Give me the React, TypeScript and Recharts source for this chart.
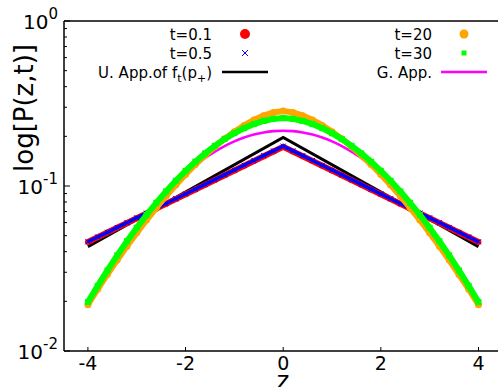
import { ComposedChart, XAxis, YAxis, Line, Scatter } from "recharts";

// z grid of the simulated points
const Z = [
  -4, -3.8, -3.6, -3.4, -3.2, -3, -2.8, -2.6, -2.4, -2.2, -2, -1.8, -1.6, -1.4, -1.2, -1, -0.8, -0.6, -0.4, -0.2,
  0, 0.2, 0.4, 0.6, 0.8, 1, 1.2, 1.4, 1.6, 1.8, 2, 2.2, 2.4, 2.6, 2.8, 3, 3.2, 3.4, 3.6, 3.8, 4,
];

const T01 = [
  0.0458, 0.0489, 0.0523, 0.0559, 0.0597, 0.0638, 0.0682, 0.0729, 0.0779, 0.0833, 0.089, 0.0951, 0.1016, 0.1086,
  0.1161, 0.1241, 0.1326, 0.1417, 0.1515, 0.1618, 0.173, 0.1618, 0.1515, 0.1417, 0.1326, 0.1241, 0.1161, 0.1086,
  0.1016, 0.0951, 0.089, 0.0833, 0.0779, 0.0729, 0.0682, 0.0638, 0.0597, 0.0559, 0.0523, 0.0489, 0.0458,
];
const T05 = [
  0.0459, 0.0491, 0.0524, 0.0561, 0.0599, 0.0641, 0.0685, 0.0732, 0.0783, 0.0837, 0.0895, 0.0957, 0.1023, 0.1094,
  0.1169, 0.125, 0.1336, 0.1428, 0.1527, 0.1632, 0.1745, 0.1632, 0.1527, 0.1428, 0.1336, 0.125, 0.1169, 0.1094,
  0.1023, 0.0957, 0.0895, 0.0837, 0.0783, 0.0732, 0.0685, 0.0641, 0.0599, 0.0561, 0.0524, 0.0491, 0.0459,
];
const T20 = [
  0.0191, 0.0237, 0.0291, 0.0356, 0.0432, 0.052, 0.0622, 0.0738, 0.0869, 0.1015, 0.1176, 0.135, 0.1536, 0.1732,
  0.1932, 0.2133, 0.2328, 0.251, 0.2669, 0.279, 0.2851, 0.279, 0.2669, 0.251, 0.2328, 0.2133, 0.1932, 0.1732,
  0.1536, 0.135, 0.1176, 0.1015, 0.0869, 0.0738, 0.0622, 0.052, 0.0432, 0.0356, 0.0291, 0.0237, 0.0191,
];
const T30 = [
  0.0198, 0.0248, 0.0308, 0.038, 0.0463, 0.0559, 0.0668, 0.0791, 0.0927, 0.1076, 0.1235, 0.1403, 0.1576, 0.1752,
  0.1924, 0.2089, 0.2241, 0.2373, 0.2479, 0.2552, 0.2582, 0.2552, 0.2479, 0.2373, 0.2241, 0.2089, 0.1924, 0.1752,
  0.1576, 0.1403, 0.1235, 0.1076, 0.0927, 0.0791, 0.0668, 0.0559, 0.0463, 0.038, 0.0308, 0.0248, 0.0198,
];
const GAUSS = [
  0.02, 0.0252, 0.0314, 0.0387, 0.047, 0.0566, 0.0673, 0.079, 0.0917, 0.1052, 0.1192, 0.1335, 0.1477, 0.1615,
  0.1745, 0.1863, 0.1966, 0.205, 0.2111, 0.215, 0.2163, 0.215, 0.2111, 0.205, 0.1966, 0.1863, 0.1745, 0.1615,
  0.1477, 0.1335, 0.1192, 0.1052, 0.0917, 0.079, 0.0673, 0.0566, 0.047, 0.0387, 0.0314, 0.0252, 0.02,
];

// uniform approximation: straight in log scale, cusp at 0
const Z_U = [-4, 0, 4];
const U_APP = [0.0429, 0.197, 0.0429];

const X_TICKS = [-4, -2, 0, 2, 4];
const Y_MAJOR = [0.01, 0.1, 1];
const Y_TICKS = [
  0.01, 0.02, 0.03, 0.04, 0.05, 0.06, 0.07, 0.08, 0.09, 0.1, 0.2, 0.3, 0.4, 0.5, 0.6, 0.7, 0.8, 0.9, 1,
];
const Y_LABELS: Record<string, string> = { "0.01": "-2", "0.1": "-1", "1": "0" };

const rows = (zs: number[], ps: number[]) => zs.map((z, i) => ({ z, p: ps[i] }));

const FONT = "DejaVu Sans, sans-serif";

function BottomTick({ x, y, payload }: any) {
  return (
    <g>
      <line x1={x} x2={x} y1={y} y2={y - 4} stroke="#000" strokeWidth={1} />
      <text x={x} y={y + 19} textAnchor="middle" fontFamily={FONT} fontSize={19} fill="#000">
        {payload.value}
      </text>
    </g>
  );
}

function TopTick({ x, y }: any) {
  return <line x1={x} x2={x} y1={y} y2={y + 4} stroke="#000" strokeWidth={1} />;
}

function LeftTick({ x, y, payload }: any) {
  const major = Y_MAJOR.includes(payload.value);
  if (!major) return <line x1={x} x2={x + 3} y1={y} y2={y} stroke="#000" strokeWidth={1} />;
  return (
    <g>
      <line x1={x} x2={x + 6} y1={y} y2={y} stroke="#000" strokeWidth={1} />
      <text x={x - 6} y={y + 8} textAnchor="end" fontFamily={FONT} fontSize={20} fill="#000">
        10
        <tspan dy={-10} fontSize={15}>
          {Y_LABELS[String(payload.value)]}
        </tspan>
      </text>
    </g>
  );
}

const dot = (color: string, r: number) => (p: any) => <circle cx={p.cx} cy={p.cy} r={r} fill={color} />;
const cross = (color: string) => (p: any) => (
  <path
    d={`M${p.cx - 2.5},${p.cy - 2.5}L${p.cx + 2.5},${p.cy + 2.5}M${p.cx - 2.5},${p.cy + 2.5}L${p.cx + 2.5},${p.cy - 2.5}`}
    stroke={color}
    strokeWidth={1}
  />
);
const square = (color: string) => (p: any) => <rect x={p.cx - 3} y={p.cy - 3} width={6} height={6} fill={color} />;

function Legend() {
  const t = { fontFamily: FONT, fontSize: 15, fill: "#000" };
  return (
    <svg width={498} height={387} style={{ position: "absolute", left: 0, top: 0, pointerEvents: "none" }}>
      <text x={212} y={40} textAnchor="end" {...t}>t=0.1</text>
      <circle cx={245} cy={34} r={5} fill="#ff0000" />
      <text x={212} y={59} textAnchor="end" {...t}>t=0.5</text>
      <path d="M242,50L248,56M242,56L248,50" stroke="#0000ff" strokeWidth={1} />
      <text x={212} y={78} textAnchor="end" {...t}>
        U. App.of f<tspan dy={4} fontSize={11}>t</tspan>
        <tspan dy={-4}>(p</tspan>
        <tspan dy={4} fontSize={11}>+</tspan>
        <tspan dy={-4}>)</tspan>
      </text>
      <line x1={222} x2={268} y1={72} y2={72} stroke="#000" strokeWidth={2.5} />

      <text x={432} y={40} textAnchor="end" {...t}>t=20</text>
      <circle cx={464} cy={34} r={4.5} fill="#ffa500" />
      <text x={432} y={59} textAnchor="end" {...t}>t=30</text>
      <rect x={461.5} y={50.5} width={5} height={5} fill="#00ff00" />
      <text x={432} y={78} textAnchor="end" {...t}>G. App.</text>
      <line x1={441} x2={487} y1={72} y2={72} stroke="#ff00ff" strokeWidth={2.5} />
    </svg>
  );
}

export default function App() {
  return (
    <div style={{ position: "absolute", left: 0, top: 0, width: 498, height: 387, background: "#fff" }}>
      <ComposedChart width={498} height={387} margin={{ top: 20, right: 0, bottom: 0, left: 0 }}>
        <XAxis
          dataKey="z"
          type="number"
          domain={[-4.49, 4.4]}
          allowDataOverflow
          ticks={X_TICKS}
          interval={0}
          height={36}
          tickSize={0}
          tickMargin={0}
          tickLine={false}
          tick={<BottomTick />}
          axisLine={{ stroke: "#000", strokeWidth: 1.5 }}
          label={() => (
            <text x={283} y={389} textAnchor="middle" fontFamily={FONT} fontSize={24} fill="#000">
              z
            </text>
          )}
        />
        <XAxis
          xAxisId="top"
          orientation="top"
          type="number"
          domain={[-4.49, 4.4]}
          allowDataOverflow
          ticks={X_TICKS}
          interval={0}
          height={1}
          tickSize={0}
          tickMargin={0}
          tickLine={false}
          tick={<TopTick />}
          axisLine={{ stroke: "#000", strokeWidth: 1.5 }}
        />
        <YAxis
          dataKey="p"
          type="number"
          scale="log"
          domain={[0.01, 1]}
          allowDataOverflow
          ticks={Y_TICKS}
          interval={0}
          width={64}
          tickSize={0}
          tickMargin={0}
          tickLine={false}
          tick={<LeftTick />}
          axisLine={{ stroke: "#000", strokeWidth: 1.5 }}
          label={() => (
            <text
              x={33}
              y={108}
              transform="rotate(-90 33 108)"
              textAnchor="middle"
              fontFamily={FONT}
              fontSize={26}
              fill="#000"
            >
              log[P(z,t)]
            </text>
          )}
        />
        <Line
          data={rows(Z_U, U_APP)}
          dataKey="p"
          type="linear"
          stroke="#000"
          strokeWidth={3}
          dot={false}
          isAnimationActive={false}
        />
        <Scatter
          data={rows(Z, T01)}
          dataKey="p"
          line={{ stroke: "#ff0000", strokeWidth: 6 }}
          shape={dot("#ff0000", 3)}
          isAnimationActive={false}
        />
        <Scatter
          data={rows(Z, T05)}
          dataKey="p"
          line={{ stroke: "#0000ff", strokeWidth: 3.5 }}
          shape={cross("#0000ff")}
          isAnimationActive={false}
        />
        <Scatter
          data={rows(Z, T20)}
          dataKey="p"
          line={{ stroke: "#ffa500", strokeWidth: 6 }}
          shape={dot("#ffa500", 3.5)}
          isAnimationActive={false}
        />
        <Scatter
          data={rows(Z, T30)}
          dataKey="p"
          line={{ stroke: "#00ff00", strokeWidth: 6 }}
          shape={square("#00ff00")}
          isAnimationActive={false}
        />
        <Line
          data={rows(Z, GAUSS)}
          dataKey="p"
          type="monotone"
          stroke="#ff00ff"
          strokeWidth={2.6}
          dot={false}
          isAnimationActive={false}
        />
      </ComposedChart>
      <Legend />
    </div>
  );
}
